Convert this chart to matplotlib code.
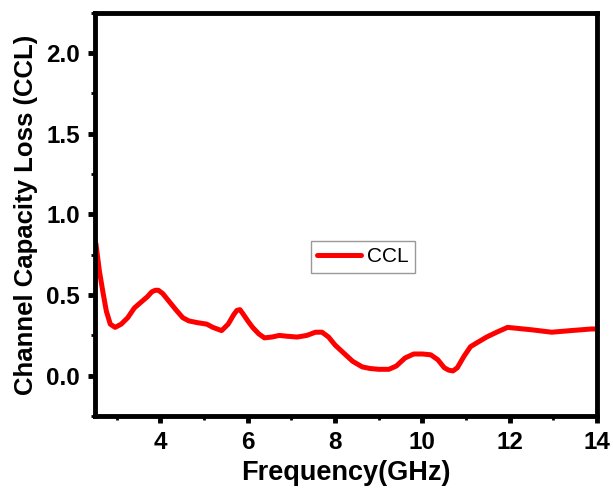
import numpy as np
import matplotlib.pyplot as plt
from matplotlib.ticker import MultipleLocator

# values
freq = [2.52, 2.60, 2.68, 2.76, 2.85, 2.96, 3.10, 3.25, 3.40, 3.57, 3.70, 3.80,
        3.88, 3.95, 4.05, 4.20, 4.35, 4.51, 4.65, 4.83, 5.06, 5.20, 5.40, 5.55,
        5.68, 5.75, 5.82, 5.90, 6.00, 6.11, 6.25, 6.38, 6.55, 6.72, 6.90, 7.13,
        7.35, 7.55, 7.70, 7.85, 8.00, 8.20, 8.40, 8.62, 8.80, 9.00, 9.23, 9.40,
        9.60, 9.80, 10.00, 10.19, 10.35, 10.50, 10.60, 10.70, 10.80, 10.95,
        11.10, 11.22, 11.47, 11.70, 11.95, 12.50, 12.96, 13.40, 13.87, 14.00]
ccl = [0.82, 0.65, 0.52, 0.40, 0.32, 0.30, 0.32, 0.36, 0.42, 0.46, 0.49, 0.52,
       0.53, 0.53, 0.51, 0.46, 0.41, 0.36, 0.34, 0.33, 0.32, 0.30, 0.28, 0.32,
       0.38, 0.405, 0.41, 0.38, 0.34, 0.30, 0.26, 0.235, 0.24, 0.25, 0.245, 0.24,
       0.25, 0.27, 0.27, 0.24, 0.19, 0.14, 0.09, 0.055, 0.045, 0.04, 0.04, 0.06,
       0.11, 0.135, 0.135, 0.13, 0.10, 0.05, 0.035, 0.03, 0.05, 0.12,
       0.18, 0.20, 0.24, 0.27, 0.30, 0.285, 0.27, 0.28, 0.29, 0.29]

plt.rcParams['font.family'] = ['Liberation Sans', 'DejaVu Sans']

fig = plt.figure(figsize=(6.13, 4.93), dpi=100)
ax = fig.add_axes([0.155, 0.156, 0.819, 0.818])

ax.plot(freq, ccl, color='#ff0000', lw=3.6, label='CCL',
        solid_capstyle='round', solid_joinstyle='round')

ax.set_xlim(2.5, 14)
ax.set_ylim(-0.25, 2.25)
ax.xaxis.set_major_locator(MultipleLocator(2))
ax.xaxis.set_minor_locator(MultipleLocator(1))
ax.yaxis.set_major_locator(MultipleLocator(0.5))
ax.yaxis.set_minor_locator(MultipleLocator(0.25))
ax.yaxis.set_major_formatter(plt.FormatStrFormatter('%.1f'))

for s in ax.spines.values():
    s.set_linewidth(3.5)
ax.tick_params(which='major', direction='out', length=5, width=3.5,
               labelsize=17.5, pad=6)
ax.tick_params(which='minor', direction='out', length=3, width=2)
for lab in ax.get_xticklabels() + ax.get_yticklabels():
    lab.set_fontweight('bold')

ax.set_xlabel('Frequency(GHz)', fontsize=19.5, fontweight='bold', labelpad=4)
ax.set_ylabel('Channel Capacity Loss (CCL)', fontsize=18.5, fontweight='bold', labelpad=6)

leg = ax.legend(loc='center', bbox_to_anchor=(0.534, 0.395), fontsize=15,
                fancybox=False, framealpha=1, edgecolor='#999999',
                handlelength=2.1, borderpad=0.3, borderaxespad=0,
                handletextpad=0.3)
leg.get_frame().set_linewidth(1.0)

fig.savefig('out.png', dpi=100)
